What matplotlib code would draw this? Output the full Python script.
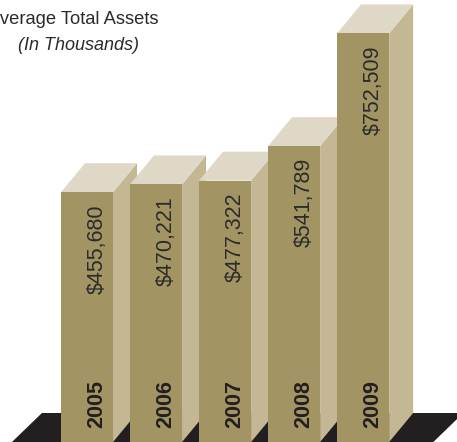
import matplotlib.pyplot as plt
from matplotlib.patches import Polygon, Rectangle

# Average total assets, in thousands of dollars
years = ['2005', '2006', '2007', '2008', '2009']
assets = [455680, 470221, 477322, 541789, 752509]
labels = ['$455,680', '$470,221', '$477,322', '$541,789', '$752,509']

front_color = '#A39463'
side_color = '#C4B794'
top_color = '#E0D8C6'
floor_color = '#231F20'
text_color = '#2B2B2B'

W, H, DPI = 457, 442, 100
fig = plt.figure(figsize=(W / DPI, H / DPI), dpi=DPI)
ax = fig.add_axes([0, 0, 1, 1])
ax.set_xlim(-1.26, 5.36)
ax.set_ylim(-11200, 815000)
ax.axis('off')

# pixel -> data unit conversions for the 3D depth offset
x0, x1 = ax.get_xlim()
y0, y1 = ax.get_ylim()
px_x = (x1 - x0) / W
px_y = (y1 - y0) / H
dx = 24 * px_x
dy = 29 * px_y
width = 0.754
bottom = y0

# floor slab
n = len(years)
fl, fr = -width / 2 - 0.71, (n - 1) + width / 2 + 0.64
ax.add_patch(Polygon([(fl, bottom), (fr, bottom), (fr + dx * 1.25, bottom + dy),
                      (fl + dx * 1.25, bottom + dy)],
                     closed=True, facecolor=floor_color, edgecolor='none', zorder=1))

for i, (yr, val, lab) in enumerate(zip(years, assets, labels)):
    left, right = i - width / 2, i + width / 2
    z = 2 + i
    ax.add_patch(Polygon([(right, bottom), (right + dx, bottom + dy),
                          (right + dx, val + dy), (right, val)],
                         closed=True, facecolor=side_color, edgecolor='none', zorder=z))
    ax.add_patch(Polygon([(left, val), (right, val), (right + dx, val + dy),
                          (left + dx, val + dy)],
                         closed=True, facecolor=top_color, edgecolor='none', zorder=z))
    ax.add_patch(Rectangle((left, bottom), width, val - bottom,
                           facecolor=front_color, edgecolor='none', zorder=z))
    tx = i + 10 * px_x
    ax.text(tx, val - 12 * px_y, lab, rotation=90, ha='center', va='top',
            fontsize=15.5, family='Liberation Sans', color=text_color, zorder=10)
    ax.text(tx, bottom + 14 * px_y, yr, rotation=90, ha='center', va='bottom',
            fontsize=15.5, fontweight='bold', family='Liberation Sans',
            color=floor_color, zorder=10)

ax.text(158 / W, 1 - 20 / H, 'Average Total Assets', transform=ax.transAxes,
        ha='right', va='center', fontsize=13.2, family='Liberation Sans',
        color=text_color)
ax.text(78 / W, 1 - 45 / H, '(In Thousands)', transform=ax.transAxes,
        ha='center', va='center', fontsize=13, style='italic',
        family='Liberation Sans', color=text_color)

fig.savefig('out.png', dpi=DPI)
